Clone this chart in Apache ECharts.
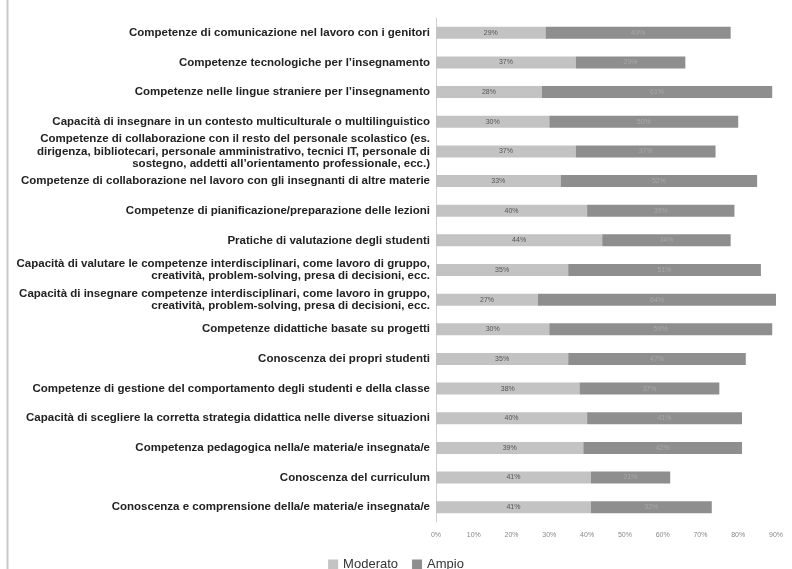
<!DOCTYPE html>
<html><head><meta charset="utf-8">
<script src="https://cdn.jsdelivr.net/npm/echarts@6/dist/echarts.min.js"></script>
<style>html,body{margin:0;padding:0;background:#fff}#c{width:792px;height:569px}</style>
</head><body><div id="c"></div>
<script>
const categories = [
  "Competenze di comunicazione nel lavoro con i genitori",
  "Competenze tecnologiche per l’insegnamento",
  "Competenze nelle lingue straniere per l’insegnamento",
  "Capacità di insegnare in un contesto multiculturale o multilinguistico",
  "Competenze di collaborazione con il resto del personale scolastico (es.\ndirigenza, bibliotecari, personale amministrativo, tecnici IT, personale di\nsostegno, addetti all’orientamento professionale, ecc.)",
  "Competenze di collaborazione nel lavoro con gli insegnanti di altre materie",
  "Competenze di pianificazione/preparazione delle lezioni",
  "Pratiche di valutazione degli studenti",
  "Capacità di valutare le competenze interdisciplinari, come lavoro di gruppo,\ncreatività, problem-solving, presa di decisioni, ecc.",
  "Capacità di insegnare competenze interdisciplinari, come lavoro in gruppo,\ncreatività, problem-solving, presa di decisioni, ecc.",
  "Competenze didattiche basate su progetti",
  "Conoscenza dei propri studenti",
  "Competenze di gestione del comportamento degli studenti e della classe",
  "Capacità di scegliere la corretta strategia didattica nelle diverse situazioni",
  "Competenza pedagogica nella/e materia/e insegnata/e",
  "Conoscenza del curriculum",
  "Conoscenza e comprensione della/e materia/e insegnata/e"
];
const moderato = [29, 37, 28, 30, 37, 33, 40, 44, 35, 27, 30, 35, 38, 40, 39, 41, 41];
const ampio    = [49, 29, 61, 50, 37, 52, 39, 34, 51, 64, 59, 47, 37, 41, 42, 21, 32];
const seriesNames = ["Moderato", "Ampio"];

const chart = echarts.init(document.getElementById('c'), null, {renderer: 'canvas'});
const fontFam = '"Liberation Sans", "DejaVu Sans", sans-serif';
chart.setOption({
  animation: false,
  backgroundColor: '#fff',
  graphic: [{type: 'line', shape: {x1: 7.5, y1: 0, x2: 7.5, y2: 569}, style: {stroke: '#c8c8c8', lineWidth: 2}}],
  grid: {left: 436, right: 16, top: 18, bottom: 47, containLabel: false},
  legend: {
    top: 553, left: 'center', icon: 'rect', itemWidth: 10, itemHeight: 10, itemGap: 14,
    textStyle: {fontFamily: fontFam, fontSize: 13, color: '#333'},
    data: seriesNames
  },
  xAxis: {
    type: 'value', min: 0, max: 90, interval: 10,
    axisLabel: {formatter: '{value}%', fontSize: 7, color: '#888', fontFamily: fontFam, margin: 10},
    splitLine: {show: false}, axisLine: {show: false}, axisTick: {show: false}
  },
  yAxis: {
    type: 'category', inverse: true, data: categories,
    axisLine: {show: true, lineStyle: {color: '#d0d0d0', width: 1}},
    axisTick: {show: false},
    axisLabel: {fontSize: 11.5, fontWeight: 'bold', color: '#222', fontFamily: fontFam, margin: 6, lineHeight: 12.5, align: 'right'}
  },
  series: [
    {name: seriesNames[0], type: 'bar', stack: 's', data: moderato, barWidth: 12,
     itemStyle: {color: '#c3c3c3'},
     label: {show: true, position: 'inside', formatter: '{c}%', fontSize: 7, color: '#555', fontFamily: fontFam}},
    {name: seriesNames[1], type: 'bar', stack: 's', data: ampio, barWidth: 12,
     itemStyle: {color: '#8e8e8e'},
     label: {show: true, position: 'inside', formatter: '{c}%', fontSize: 7, color: '#a8a8a8', fontFamily: fontFam}}
  ]
});
</script></body></html>
